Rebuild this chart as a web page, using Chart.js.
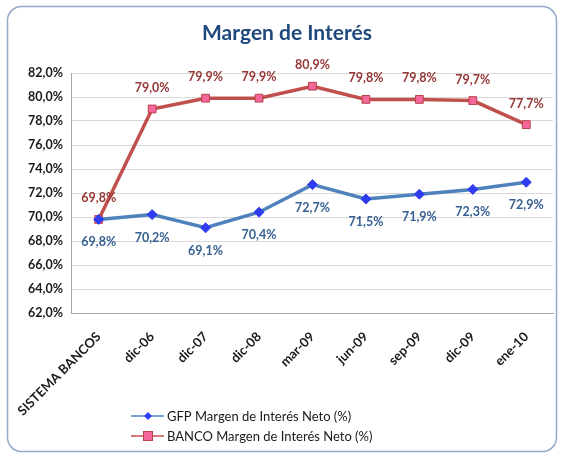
<!DOCTYPE html>
<html lang="es">
<head>
<meta charset="UTF-8">
<title>Margen de Interés</title>
<style>
    body { margin: 0; background: #fff; }
    #wrap { position: relative; width: 563px; height: 456px; }
    canvas { display: block; }
</style>
<script src="https://cdn.jsdelivr.net/npm/chart.js"></script>
</head>
<body>
<div id="wrap"><canvas id="myChart" width="563" height="456"></canvas></div>
<script>
    // datos
    const categorias = ['SISTEMA BANCOS', 'dic-06', 'dic-07', 'dic-08', 'mar-09', 'jun-09', 'sep-09', 'dic-09', 'ene-10'];
    const gfp = [69.8, 70.2, 69.1, 70.4, 72.7, 71.5, 71.9, 72.3, 72.9];
    const banco = [69.8, 79.0, 79.9, 79.9, 80.9, 79.8, 79.8, 79.7, 77.7];
    const nombreGfp = 'GFP Margen de Interés Neto (%)';
    const nombreBanco = 'BANCO Margen de Interés Neto (%)';
    const titulo = 'Margen de Interés';

    const fuente = 'Lato, "Open Sans", sans-serif';

    function pct(v) {
        return v.toFixed(1).replace('.', ',') + '%';
    }

    // marco, titulo, etiquetas y leyenda
    const extras = {
        id: 'extras',
        beforeDraw(chart) {
            const ctx = chart.ctx;
            ctx.save();
            ctx.fillStyle = '#fff';
            ctx.fillRect(0, 0, chart.width, chart.height);
            ctx.strokeStyle = '#95a9c8';
            ctx.lineWidth = 1.5;
            ctx.beginPath();
            ctx.roundRect(7.5, 6.5, 549, 445, 14);
            ctx.stroke();
            ctx.fillStyle = '#1f497d';
            ctx.font = 'bold 21px ' + fuente;
            ctx.textAlign = 'center';
            ctx.textBaseline = 'middle';
            ctx.fillText(titulo, 287, 33);
            ctx.restore();
        },
        afterDatasetsDraw(chart) {
            const ctx = chart.ctx;
            ctx.save();
            ctx.font = 'bold 12.5px ' + fuente;
            ctx.textAlign = 'center';
            ctx.textBaseline = 'middle';
            chart.data.datasets.forEach((ds, i) => {
                const meta = chart.getDatasetMeta(i);
                meta.data.forEach((pt, j) => {
                    ctx.fillStyle = ds.labelColor;
                    ctx.fillText(pct(ds.data[j]), pt.x, pt.y + ds.labelOffset);
                });
            });
            // leyenda
            ctx.textAlign = 'left';
            ctx.font = '13px ' + fuente;
            chart.data.datasets.forEach((ds, i) => {
                const y = 416 + i * 20;
                ctx.strokeStyle = ds.borderColor;
                ctx.lineWidth = 1.5;
                ctx.beginPath();
                ctx.moveTo(131, y);
                ctx.lineTo(164, y);
                ctx.stroke();
                ctx.fillStyle = ds.pointBackgroundColor;
                ctx.strokeStyle = ds.pointBorderColor;
                ctx.lineWidth = 1;
                if (ds.pointStyle === 'rectRot') {
                    ctx.beginPath();
                    ctx.moveTo(148, y - 4);
                    ctx.lineTo(152, y);
                    ctx.lineTo(148, y + 4);
                    ctx.lineTo(144, y);
                    ctx.closePath();
                    ctx.fill();
                } else {
                    ctx.fillRect(143.5, y - 4.5, 9, 9);
                    ctx.strokeRect(143.5, y - 4.5, 9, 9);
                }
                ctx.fillStyle = '#1a1a1a';
                ctx.fillText(ds.label, 167, y + 1);
            });
            ctx.restore();
        }
    };

    const ctx = document.getElementById('myChart').getContext('2d');
    new Chart(ctx, {
        type: 'line',
        data: {
            labels: categorias,
            datasets: [{
                label: nombreGfp,
                data: gfp,
                borderColor: '#4f81bd',
                borderWidth: 3.5,
                pointStyle: 'rectRot',
                pointRadius: 5,
                pointBackgroundColor: '#2f3cf0',
                pointBorderColor: '#2f3cf0',
                pointBorderWidth: 1,
                labelColor: '#376092',
                labelOffset: 23
            }, {
                label: nombreBanco,
                data: banco,
                borderColor: '#c0504d',
                borderWidth: 3.5,
                pointStyle: 'rect',
                pointRadius: 5.5,
                pointBackgroundColor: '#f4679a',
                pointBorderColor: '#b8414a',
                pointBorderWidth: 1,
                labelColor: '#953735',
                labelOffset: -21
            }]
        },
        options: {
            responsive: false,
            animation: false,
            layout: { padding: { top: 73, right: 10, left: 0, bottom: 0 } },
            plugins: {
                legend: { display: false },
                title: { display: false },
                tooltip: { enabled: false }
            },
            scales: {
                x: {
                    offset: true,
                    grid: { display: false, drawTicks: false },
                    border: { color: '#a6a6a6', width: 1 },
                    ticks: {
                        minRotation: 45,
                        maxRotation: 45,
                        padding: 16,
                        color: '#1a1a1a',
                        font: { family: fuente, size: 13, weight: 'bold' }
                    },
                    afterFit(scale) { scale.height = 143; }
                },
                y: {
                    min: 62,
                    max: 82,
                    ticks: {
                        stepSize: 2,
                        padding: 9,
                        color: '#1a1a1a',
                        font: { family: fuente, size: 12.5, weight: 'bold' },
                        callback: v => pct(v)
                    },
                    grid: { color: '#d9d9d9', drawTicks: false },
                    border: { color: '#a6a6a6', width: 1 },
                    afterFit(scale) { scale.width = 71; }
                }
            }
        },
        plugins: [extras]
    });
</script>
</body>
</html>
